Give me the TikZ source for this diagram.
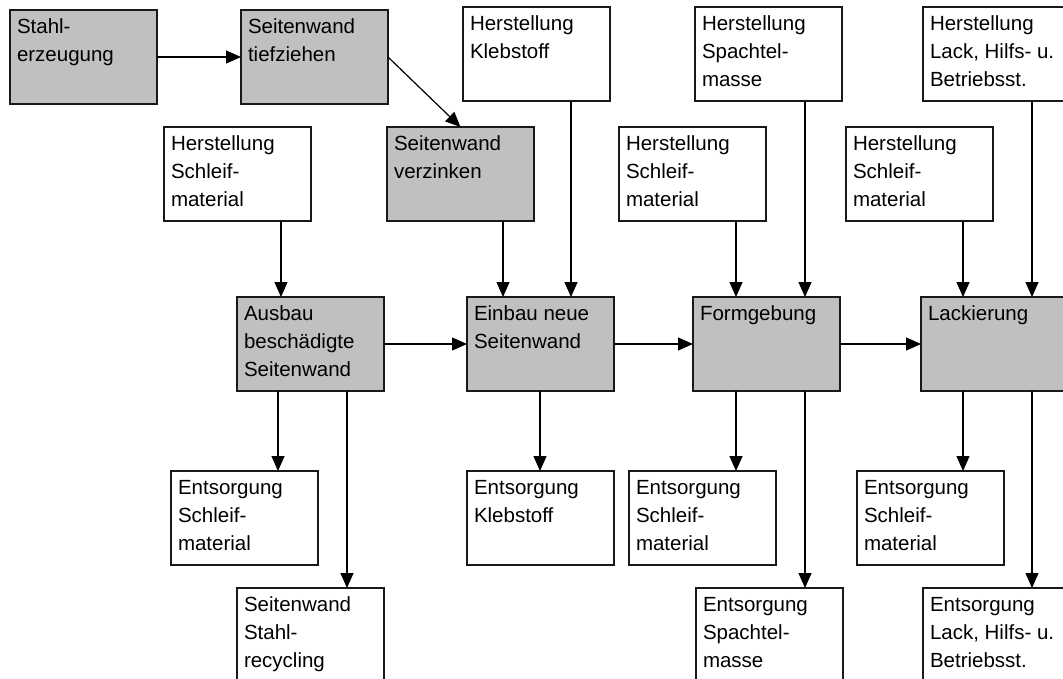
\documentclass[tikz,border=0pt]{standalone}
\usepackage{fontspec}
\setmainfont{Liberation Sans}
\usetikzlibrary{arrows.meta}

% box text: top-left aligned inside a fixed 147 x 94 frame
\newcommand{\btxt}[1]{\parbox[t][94pt][t]{147pt}{\fontsize{20.5pt}{28pt}\selectfont\raggedright\leftskip=7pt\rule{0pt}{23.5pt}#1}}

\begin{document}
\begin{tikzpicture}[x=1pt,y=-1pt,
  box/.style={draw=black!90, line width=1.2pt, inner sep=0pt, outer sep=0pt, anchor=north west, fill=white},
  proc/.style={box, fill=procgray},
  arr/.style={draw=black, line width=1.2pt, -{Triangle[length=15pt,width=13pt]}}
]
\definecolor{procgray}{HTML}{C0C0C0}
\useasboundingbox (0,0) rectangle (1063,678);
\clip (0,0) rectangle (1063,678);

% top row
\node[proc] (stahl) at (10,10)  {\btxt{Stahl-\\erzeugung}};
\node[proc] (tief)  at (241,10) {\btxt{Seitenwand\\tiefziehen}};
\node[box]  (hkleb) at (463,7)  {\btxt{Herstellung\\Klebstoff}};
\node[box]  (hspa)  at (695,7)  {\btxt{Herstellung\\Spachtel-\\masse}};
\node[box]  (hlack) at (923,7)  {\btxt{Herstellung\\Lack, Hilfs- u.\\Betriebsst.}};

% second row
\node[box]  (hs1)   at (164,127) {\btxt{Herstellung\\Schleif-\\material}};
\node[proc] (verz)  at (387,127) {\btxt{Seitenwand\\verzinken}};
\node[box]  (hs2)   at (619,127) {\btxt{Herstellung\\Schleif-\\material}};
\node[box]  (hs3)   at (846,127) {\btxt{Herstellung\\Schleif-\\material}};

% process row
\node[proc] (aus)   at (237,297) {\btxt{Ausbau\\beschädigte\\Seitenwand}};
\node[proc] (ein)   at (467,297) {\btxt{Einbau neue\\Seitenwand}};
\node[proc] (form)  at (693,297) {\btxt{Formgebung}};
\node[proc] (lack)  at (921,297) {\btxt{Lackierung}};

% disposal rows
\node[box]  (es1)   at (171,471) {\btxt{Entsorgung\\Schleif-\\material}};
\node[box]  (ekleb) at (467,471) {\btxt{Entsorgung\\Klebstoff}};
\node[box]  (es2)   at (629,471) {\btxt{Entsorgung\\Schleif-\\material}};
\node[box]  (es3)   at (857,471) {\btxt{Entsorgung\\Schleif-\\material}};
\node[box]  (recy)  at (237,588) {\btxt{Seitenwand\\Stahl-\\recycling}};
\node[box]  (espa)  at (696,588) {\btxt{Entsorgung\\Spachtel-\\masse}};
\node[box]  (elack) at (923,588) {\btxt{Entsorgung\\Lack, Hilfs- u.\\Betriebsst.}};

% connectors
\draw[arr] (stahl.east) -- (tief.west);
\draw[arr] (tief.east) -- (verz.north);

\draw[arr] ([xshift=43.5pt]hs1.south) -- ([xshift=43.5pt]hs1.south |- aus.north);
\draw[arr] ([xshift=42.5pt]verz.south) -- ([xshift=42.5pt]verz.south |- ein.north);
\draw[arr] ([xshift=34.5pt]hkleb.south) -- ([xshift=34.5pt]hkleb.south |- ein.north);
\draw[arr] ([xshift=43.5pt]hs2.south) -- ([xshift=43.5pt]hs2.south |- form.north);
\draw[arr] ([xshift=36.5pt]hspa.south) -- ([xshift=36.5pt]hspa.south |- form.north);
\draw[arr] ([xshift=43.5pt]hs3.south) -- ([xshift=43.5pt]hs3.south |- lack.north);
\draw[arr] ([xshift=35.5pt]hlack.south) -- ([xshift=35.5pt]hlack.south |- lack.north);

\draw[arr] (aus.east) -- (ein.west);
\draw[arr] (ein.east) -- (form.west);
\draw[arr] (form.east) -- (lack.west);

\draw[arr] ([xshift=-32.5pt]aus.south) -- ([xshift=-32.5pt]aus.south |- es1.north);
\draw[arr] ([xshift=36.5pt]aus.south) -- ([xshift=36.5pt]aus.south |- recy.north);
\draw[arr] ([xshift=-0.5pt]ein.south) -- ([xshift=-0.5pt]ein.south |- ekleb.north);
\draw[arr] ([xshift=-30.5pt]form.south) -- ([xshift=-30.5pt]form.south |- es2.north);
\draw[arr] ([xshift=38.5pt]form.south) -- ([xshift=38.5pt]form.south |- espa.north);
\draw[arr] ([xshift=-31.5pt]lack.south) -- ([xshift=-31.5pt]lack.south |- es3.north);
\draw[arr] ([xshift=37.5pt]lack.south) -- ([xshift=37.5pt]lack.south |- elack.north);
\end{tikzpicture}
\end{document}
